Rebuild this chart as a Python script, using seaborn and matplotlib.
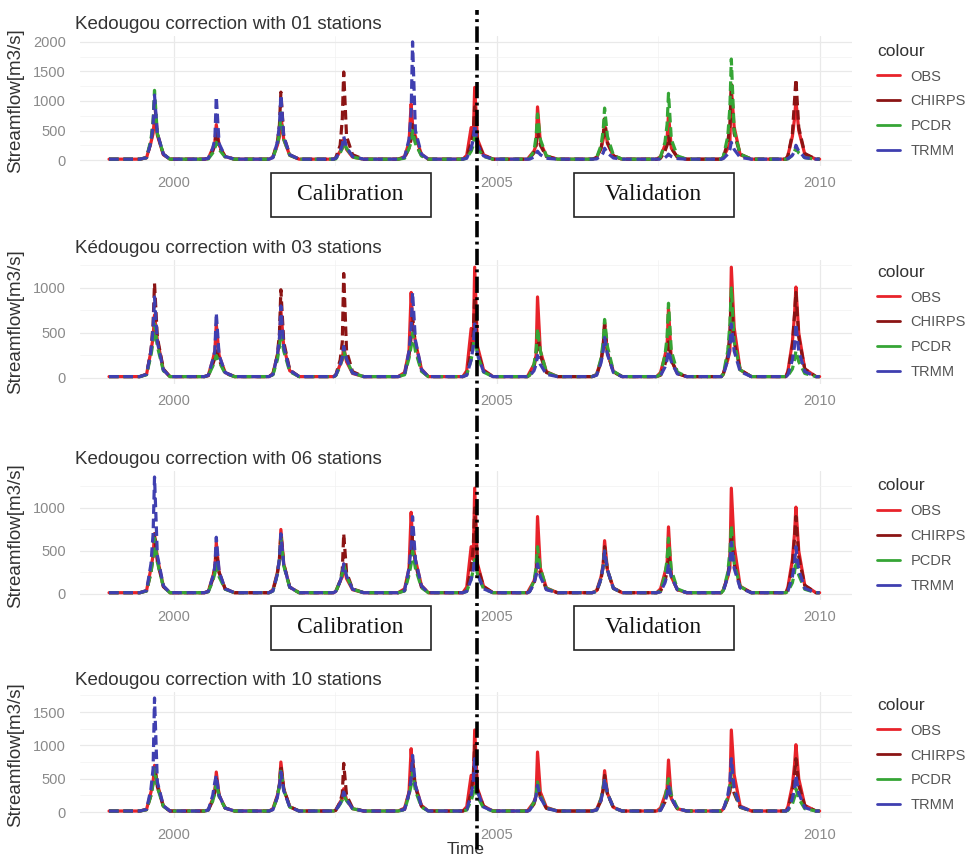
import numpy as np
import pandas as pd
import matplotlib
matplotlib.use("Agg")
import matplotlib.pyplot as plt
import matplotlib.transforms as mtransforms
from matplotlib.lines import Line2D
from matplotlib.patches import Rectangle
from matplotlib.ticker import MultipleLocator
import seaborn as sns

sns.set_theme(style="whitegrid")
plt.rcParams['font.family'] = ['Liberation Sans', 'DejaVu Sans']

# ---------------------------------------------------------------- data
YEARS = list(range(1999, 2010))
# day of year of the main flood peak, per year
PEAK_DOY = [258, 242, 242, 232, 256, 242, 232, 246, 242, 232, 232]
# day offsets (relative to the peak) of the six flood-season readings per year
EVENT_OFFSETS = [-45, -20, -8, 0, 16, 50]
DRY_END_DOY = 175
WET_END_DOY = 345
LOW_FLOW = 15  # dry-season streamflow (m3/s)

# observed streamflow: six flood-season readings per year
OBS_FLOW = [
    [40, 300, 450, 700, 420, 90],
    [30, 200, 300, 600, 250, 60],
    [50, 250, 400, 750, 350, 80],
    [30, 150, 200, 350, 180, 50],
    [60, 300, 950, 600, 400, 100],
    [80, 550, 400, 1230, 350, 90],
    [60, 150, 250, 900, 300, 70],
    [40, 200, 350, 620, 280, 70],
    [60, 250, 350, 780, 200, 50],
    [50, 200, 300, 1230, 560, 90],
    [80, 400, 700, 1010, 500, 100],
]

# 01 station correction
CHIRPS_01 = [
    [40, 300, 600, 1000, 450, 100], [30, 150, 250, 500, 220, 60],
    [50, 300, 600, 1150, 400, 90], [40, 250, 700, 1490, 400, 90],
    [40, 200, 350, 600, 300, 80], [50, 300, 450, 900, 300, 80],
    [30, 120, 250, 500, 250, 60], [40, 200, 400, 700, 300, 70],
    [30, 150, 250, 400, 200, 50], [50, 300, 600, 1280, 450, 100],
    [70, 450, 1000, 1370, 550, 110],
]
PCDR_01 = [
    [40, 350, 650, 1180, 450, 100], [20, 120, 200, 300, 180, 50],
    [40, 250, 450, 800, 350, 80], [20, 120, 200, 300, 200, 50],
    [30, 200, 300, 500, 280, 70], [30, 150, 250, 400, 200, 60],
    [30, 150, 400, 780, 350, 70], [40, 250, 500, 880, 400, 80],
    [50, 300, 600, 1130, 350, 70], [60, 400, 900, 1710, 500, 100],
    [20, 80, 150, 200, 120, 40],
]
TRMM_01 = [
    [40, 300, 600, 1100, 450, 100], [30, 200, 350, 1070, 280, 60],
    [40, 300, 600, 1100, 400, 90], [30, 150, 250, 400, 220, 60],
    [50, 350, 800, 2000, 500, 100], [30, 200, 350, 600, 250, 70],
    [15, 50, 100, 150, 90, 30], [20, 70, 120, 200, 120, 35],
    [15, 40, 70, 100, 60, 25], [25, 100, 180, 300, 180, 45],
    [25, 80, 150, 250, 150, 40],
]

# 03 stations correction
CHIRPS_03 = [
    [40, 300, 600, 1050, 450, 100], [25, 150, 220, 300, 200, 55],
    [40, 250, 500, 980, 400, 90], [30, 200, 400, 1160, 300, 70],
    [40, 250, 450, 700, 350, 80], [40, 300, 500, 900, 300, 80],
    [30, 120, 250, 500, 250, 60], [30, 180, 350, 600, 280, 65],
    [30, 150, 250, 400, 200, 50], [40, 250, 500, 900, 400, 90],
    [60, 350, 700, 950, 450, 100],
]
PCDR_03 = [
    [35, 250, 400, 600, 350, 80], [25, 130, 200, 250, 180, 50],
    [35, 200, 350, 500, 300, 70], [25, 130, 220, 300, 200, 55],
    [35, 220, 350, 500, 300, 75], [35, 200, 350, 500, 250, 65],
    [30, 150, 300, 550, 300, 65], [35, 220, 400, 650, 350, 75],
    [40, 250, 450, 830, 300, 65], [45, 300, 600, 1000, 400, 90],
    [25, 100, 200, 300, 180, 50],
]
TRMM_03 = [
    [40, 300, 550, 900, 400, 90], [30, 200, 300, 720, 250, 60],
    [40, 250, 450, 800, 350, 85], [30, 150, 230, 350, 210, 55],
    [40, 300, 550, 950, 420, 95], [30, 200, 350, 600, 260, 70],
    [20, 80, 150, 250, 150, 40], [30, 170, 300, 450, 260, 60],
    [25, 120, 200, 300, 180, 45], [35, 200, 350, 600, 300, 70],
    [35, 200, 350, 600, 300, 70],
]

# 06 stations correction
CHIRPS_06 = [
    [35, 250, 450, 700, 380, 85], [30, 170, 300, 500, 250, 60],
    [35, 230, 420, 700, 350, 80], [25, 150, 280, 700, 250, 60],
    [40, 250, 450, 700, 350, 80], [40, 300, 550, 1000, 320, 85],
    [30, 120, 230, 450, 230, 55], [30, 170, 330, 550, 270, 65],
    [30, 150, 260, 450, 210, 50], [35, 220, 400, 700, 350, 80],
    [55, 330, 650, 900, 430, 100],
]
PCDR_06 = [
    [35, 250, 420, 650, 370, 85], [25, 150, 240, 350, 200, 55],
    [35, 230, 400, 650, 330, 75], [25, 150, 240, 350, 210, 55],
    [35, 220, 350, 500, 300, 75], [30, 170, 280, 400, 230, 60],
    [30, 150, 300, 550, 300, 65], [30, 180, 320, 500, 280, 65],
    [35, 220, 400, 650, 280, 60], [40, 250, 500, 800, 360, 85],
    [30, 130, 250, 400, 220, 55],
]
TRMM_06 = [
    [40, 350, 700, 1360, 450, 95], [30, 200, 320, 660, 260, 60],
    [35, 230, 420, 700, 340, 80], [30, 150, 230, 350, 210, 55],
    [40, 300, 550, 900, 400, 95], [30, 170, 280, 400, 230, 60],
    [25, 120, 220, 350, 200, 50], [30, 180, 320, 500, 280, 65],
    [25, 130, 220, 350, 200, 50], [35, 200, 350, 600, 300, 70],
    [35, 200, 350, 550, 280, 65],
]

# 10 stations correction
CHIRPS_10 = [
    [35, 250, 450, 700, 380, 85], [30, 170, 300, 500, 250, 60],
    [35, 230, 420, 700, 350, 80], [25, 150, 280, 730, 250, 60],
    [40, 280, 500, 800, 370, 85], [40, 300, 550, 1000, 320, 85],
    [30, 120, 230, 400, 220, 55], [30, 170, 330, 550, 270, 65],
    [30, 150, 260, 400, 200, 50], [35, 200, 330, 500, 280, 70],
    [50, 300, 550, 800, 400, 95],
]
PCDR_10 = [
    [35, 250, 420, 650, 370, 85], [30, 170, 280, 450, 230, 60],
    [35, 230, 400, 650, 330, 75], [20, 120, 180, 250, 170, 50],
    [35, 250, 400, 600, 320, 75], [30, 170, 280, 400, 230, 60],
    [30, 150, 260, 450, 250, 60], [30, 200, 380, 500, 280, 65],
    [30, 200, 380, 500, 260, 60], [35, 220, 400, 600, 320, 75],
    [25, 120, 220, 350, 200, 50],
]
TRMM_10 = [
    [40, 350, 650, 1710, 450, 95], [30, 250, 450, 550, 250, 60],
    [35, 220, 400, 600, 320, 75], [25, 130, 210, 300, 190, 50],
    [40, 280, 500, 850, 400, 90], [35, 250, 450, 800, 300, 75],
    [25, 130, 240, 400, 220, 55], [30, 180, 320, 500, 280, 65],
    [25, 150, 260, 400, 210, 50], [35, 250, 450, 800, 350, 80],
    [35, 200, 350, 550, 280, 65],
]

SERIES = ['OBS', 'CHIRPS', 'PCDR', 'TRMM']
PANEL_TITLES = [
    'Kedougou correction with 01 stations',
    'Kédougou correction with 03 stations',
    'Kedougou correction with 06 stations',
    'Kedougou correction with 10 stations',
]
PANEL_SIMS = [
    (CHIRPS_01, PCDR_01, TRMM_01),
    (CHIRPS_03, PCDR_03, TRMM_03),
    (CHIRPS_06, PCDR_06, TRMM_06),
    (CHIRPS_10, PCDR_10, TRMM_10),
]
Y_TICKS = [[0, 500, 1000, 1500, 2000], [0, 500, 1000], [0, 500, 1000], [0, 500, 1000, 1500]]
CAL_END = 2004.69  # end of calibration period (decimal year)

# ---------------------------------------------------------------- styles
COLORS = {'OBS': '#e8232a', 'CHIRPS': '#8b1414', 'PCDR': '#35a535', 'TRMM': '#3f3fb0'}
DASHES = {'OBS': '', 'CHIRPS': (3.0, 1.5), 'PCDR': (3.0, 1.5), 'TRMM': (3.0, 1.5)}
Y_LIMITS = [(-100, 2100), (-67, 1311), (-70, 1430), (-90, 1800)]
AX_BOXES = [  # left, bottom, width, height in figure fraction
    (0.0826, 0.8068, 0.7975, 0.1513),
    (0.0826, 0.5530, 0.7975, 0.1444),
    (0.0826, 0.3015, 0.7975, 0.1502),
    (0.0826, 0.0477, 0.7975, 0.1467),
]
TEXT_DARK = '#333333'
TICK_GREY = '#8a8a8a'


def build_series(values):
    t, q = [], []
    for yr, peak, ev in zip(YEARS, PEAK_DOY, values):
        pts = [(1, LOW_FLOW), (DRY_END_DOY, LOW_FLOW)]
        pts += [(peak + off, v) for off, v in zip(EVENT_OFFSETS, ev)]
        pts += [(WET_END_DOY, LOW_FLOW)]
        for doy, v in pts:
            t.append(yr + (doy - 1) / 365.0)
            q.append(v)
    t.append(YEARS[-1] + 1.0)
    q.append(LOW_FLOW)
    return t, q


fig = plt.figure(figsize=(9.68, 8.59), dpi=100)
fig.patch.set_facecolor('white')
axes = []
for i, (box, title, sims) in enumerate(zip(AX_BOXES, PANEL_TITLES, PANEL_SIMS)):
    ax = fig.add_axes(box)
    axes.append(ax)
    frames = []
    for name, vals in zip(SERIES, (OBS_FLOW,) + tuple(sims)):
        t, q = build_series(vals)
        frames.append(pd.DataFrame({'t': t, 'q': q, 'series': name}))
    df = pd.concat(frames, ignore_index=True)
    sns.lineplot(data=df, x='t', y='q', hue='series', style='series',
                 hue_order=SERIES, style_order=SERIES, palette=COLORS,
                 dashes=DASHES, estimator=None, sort=False, lw=2.3,
                 legend=False, ax=ax)
    ax.set_facecolor('white')
    ax.set_xlim(1998.55, 2010.5)
    ax.set_ylim(*Y_LIMITS[i])
    ax.set_xticks([2000, 2005, 2010])
    ax.set_xticklabels(['2000', '2005', '2010'])
    ax.set_yticks(Y_TICKS[i])
    ax.xaxis.set_minor_locator(MultipleLocator(2.5))
    ax.yaxis.set_minor_locator(MultipleLocator(250))
    ax.grid(which='major', color='#e9e9e9', lw=0.9)
    ax.grid(which='minor', color='#f2f2f2', lw=0.5)
    for s in ax.spines.values():
        s.set_visible(False)
    ax.tick_params(axis='both', which='both', length=0, labelsize=10.5,
                   labelcolor=TICK_GREY)
    ax.tick_params(axis='y', pad=10)
    ax.tick_params(axis='x', pad=7)
    ax.set_ylabel('Streamflow[m3/s]', fontsize=13.5, color=TEXT_DARK)
    ax.yaxis.set_label_coords(-0.072, 0.5)
    ax.set_xlabel('')
    ax.set_title(title, loc='left', fontsize=13.5, color=TEXT_DARK, pad=5, x=-0.007)
    handles = [Line2D([], [], color=COLORS[s], lw=2) for s in SERIES]
    leg = ax.legend(handles, SERIES, title='colour', loc='center left',
                    bbox_to_anchor=(1.025, 0.5), frameon=False, alignment='left',
                    fontsize=10.5, title_fontsize=12.5, handlelength=1.6,
                    handletextpad=0.7, labelspacing=0.75, borderaxespad=0)
    leg.get_title().set_color(TEXT_DARK)
    for txt in leg.get_texts():
        txt.set_color('#555555')

axes[-1].set_xlabel('Time', fontsize=12.5, color=TEXT_DARK, labelpad=0)

# calibration / validation split line through the whole figure
blend = mtransforms.blended_transform_factory(axes[0].transData, fig.transFigure)
split = Line2D([CAL_END, CAL_END], [0.012, 0.988], transform=blend, color='black',
               lw=2.6, linestyle=(0, (4.5, 1.2, 0.8, 1.2)), zorder=20)
fig.add_artist(split)

# period boxes
for ycen in (0.773, 0.269):
    for x0, x1, label in ((2001.50, 2003.98, 'Calibration'), (2006.19, 2008.67, 'Validation')):
        h = 44 / 859
        rect = Rectangle((x0, ycen - h / 2), x1 - x0, h, transform=blend,
                         facecolor='white', edgecolor='#222222', lw=1.2, zorder=21)
        fig.add_artist(rect)
        fig.text((x0 + x1) / 2, ycen, label, transform=blend, ha='center', va='center',
                 fontsize=17, family='Liberation Serif', color='#111111', zorder=22)

fig.savefig('out.png', dpi=100, facecolor='white')
